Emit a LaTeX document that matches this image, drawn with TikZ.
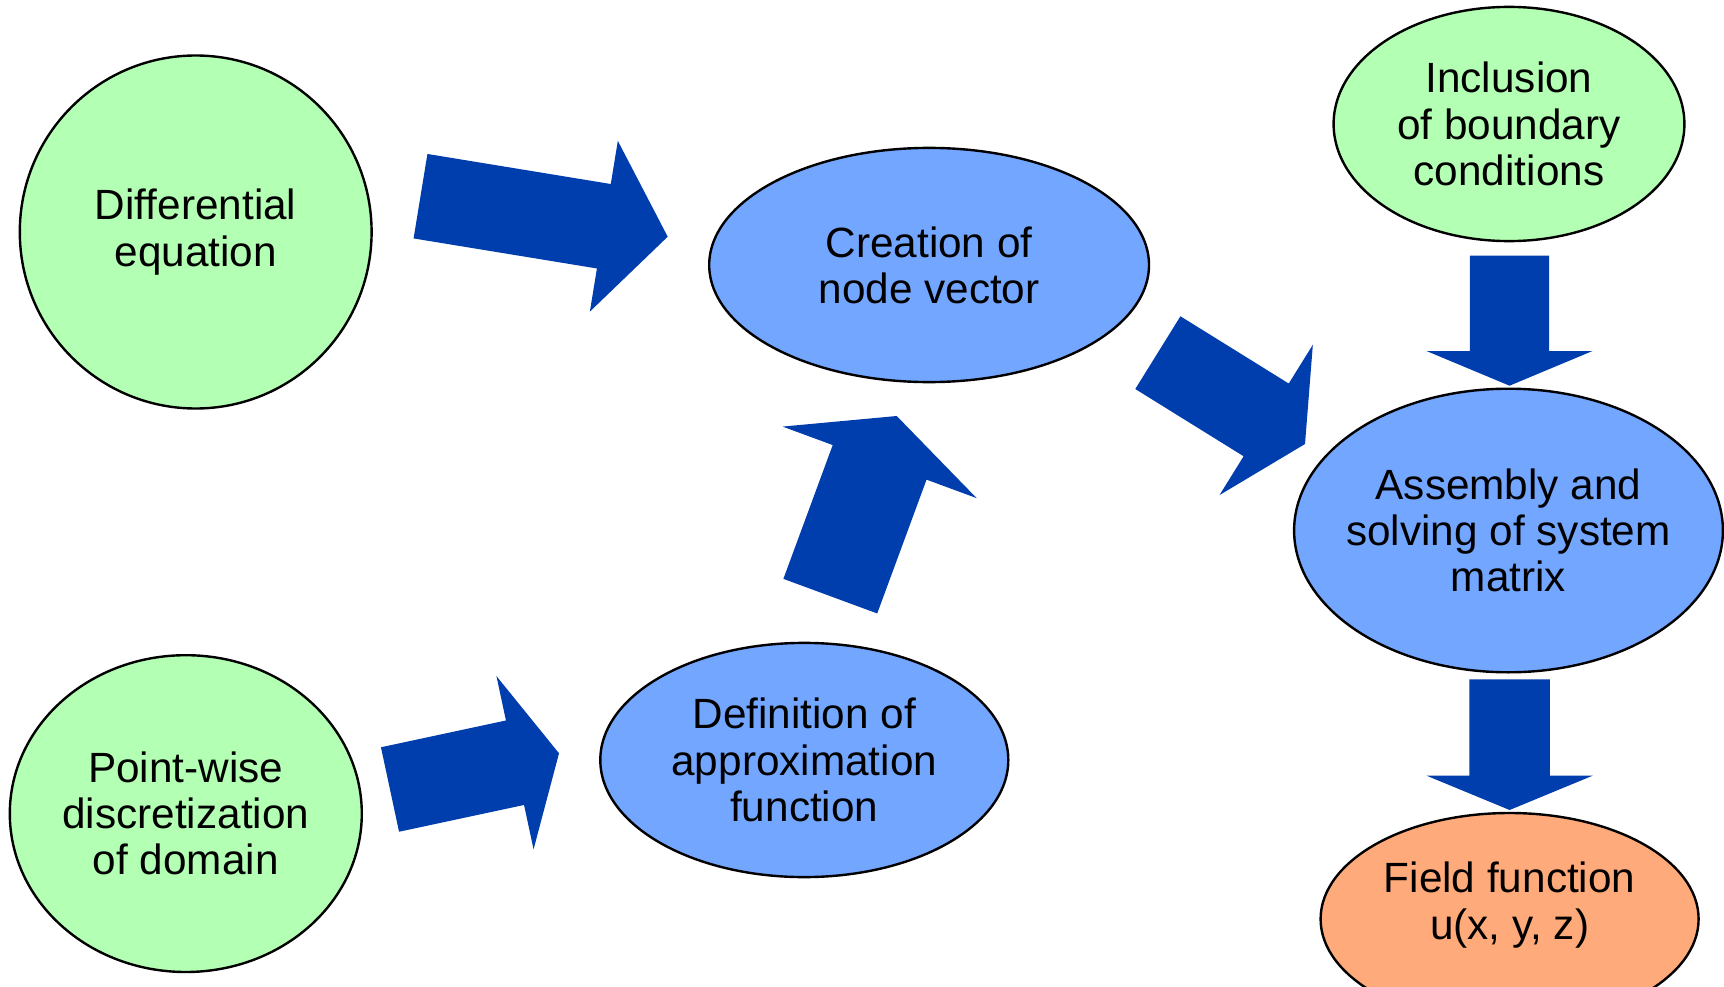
\documentclass[tikz,border=0pt]{standalone}
\usepackage{fontspec}
\setmainfont{Liberation Sans}
\usetikzlibrary{shapes.geometric,calc}
\definecolor{greenfill}{RGB}{179,255,179}
\definecolor{bluefill}{RGB}{115,166,255}
\definecolor{orangefill}{RGB}{255,170,122}
\definecolor{arrowblue}{RGB}{0,61,173}
\tikzset{
  bubble/.style={ellipse, draw=black, line width=2.4pt, inner sep=0pt, align=center,
    font=\fontsize{42.3}{46.2}\selectfont},
  greenb/.style={bubble, fill=greenfill},
  blueb/.style={bubble, fill=bluefill},
  orangeb/.style={bubble, fill=orangefill},
  txt/.style={inner sep=0pt, align=center, font=\fontsize{42.3}{46.2}\selectfont},
  arrowfill/.style={fill=arrowblue}
}
% #1 tail centre, #2 tip, #3 shaft half width, #4 head half width, #5 head length
\newcommand\blockarrow[5]{%
  \path ($(#2)!#5!(#1)$) coordinate (hb);
  \fill[arrowfill] ($(#1)!#3!90:(#2)$) -- ($(hb)!#3!90:(#2)$) -- ($(hb)!#4!90:(#2)$)
    -- (#2) -- ($(hb)!#4!-90:(#2)$) -- ($(hb)!#3!-90:(#2)$) -- ($(#1)!#3!-90:(#2)$) -- cycle;
}
\begin{document}
\begin{tikzpicture}[x=1pt,y=-1pt]
\useasboundingbox[fill=white] (0,0) rectangle (1724,987);
% nodes
\node[greenb, minimum width=351.8pt, minimum height=353pt] (diff) at (195.7,232) {Differential\\equation};
\node[greenb, minimum width=352pt, minimum height=316.8pt, inner xsep=-10pt] (point) at (185.8,813.6) {Point-wise\\discretization\\of domain};
\node[blueb, minimum width=439.8pt, minimum height=234.2pt] (create) at (929.1,265) {Creation of\\node vector};
\node[blueb, minimum width=408pt, minimum height=234.2pt] (defn) at (804.3,760) {Definition of\\approximation\\function};
\node[greenb, minimum width=350.8pt, minimum height=234.2pt] (incl) at (1509,124) {Inclusion\\of boundary\\conditions};
\node[blueb, minimum width=428.8pt, minimum height=283.6pt, inner xsep=-25pt] (assem) at (1508.5,530.5) {Assembly and\\solving of system\\matrix};
\node[orangeb, minimum width=378pt, minimum height=212pt] (field) at (1509.6,919) {};
\node[txt] (fieldtxt) at (1509.6,905) {Field function\\u(x, y, z)};
% arrow end points
\coordinate (a1s) at (420.5,196.2);   \coordinate (a1t) at (667.7,236.7);
\coordinate (a2s) at (1157.85,352.65); \coordinate (a2t) at (1305,444);
\coordinate (a3s) at (830.3,596.15);  \coordinate (a3t) at (896.7,416);
\coordinate (a4s) at (1509.5,255.7);  \coordinate (a4t) at (1509.5,385.7);
\coordinate (a5s) at (1509.6,679.3);  \coordinate (a5t) at (1509.6,810);
\coordinate (a6s) at (390,789.5);     \coordinate (a6t) at (559,753.3);
% block arrows
\blockarrow{a1s}{a1t}{42.8pt}{86.5pt}{64.7pt}
\blockarrow{a2s}{a2t}{42.8pt}{88.5pt}{45.7pt}
\blockarrow{a3s}{a3t}{50pt}{103.4pt}{49.4pt}
\blockarrow{a4s}{a4t}{39.65pt}{83pt}{34.7pt}
\blockarrow{a5s}{a5t}{40.35pt}{83pt}{34.3pt}
\blockarrow{a6s}{a6t}{43.2pt}{88.6pt}{45pt}
\end{tikzpicture}
\end{document}
